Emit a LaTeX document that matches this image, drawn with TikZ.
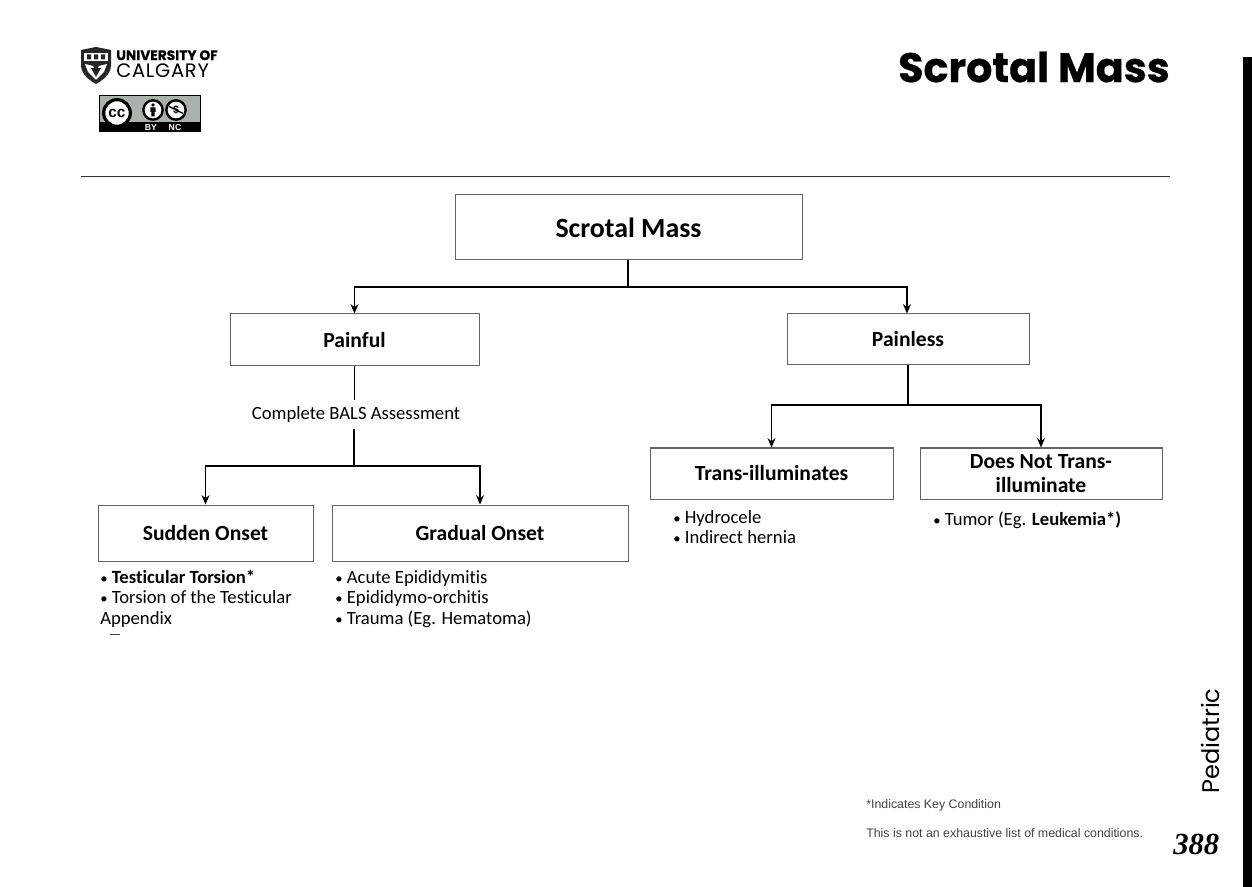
\documentclass[tikz,border=0pt]{standalone}
\usepackage{fontspec}
\usepackage{xcolor}
\usetikzlibrary{arrows.meta,positioning,calc}
\setmainfont{Carlito}[Ligatures=NoCommon]
\newfontfamily\titlefont{Poppins}[FakeBold=0.6]
\newfontfamily\sidefont{Poppins}
\newfontfamily\logofont{Poppins}[LetterSpace=4]
\newfontfamily\notefont{Liberation Sans}
\newfontfamily\pagefont{Liberation Serif}
\definecolor{boxline}{HTML}{636363}
\definecolor{ccgrey}{HTML}{AAB2AB}
\newcommand{\listdot}{{\fontsize{11}{11}\selectfont\textbullet}\hspace{3.2pt}}

\begin{document}
\begin{tikzpicture}[
      x=0.75pt, y=-0.75pt,
      block/.style={rectangle, draw=boxline, line width=0.75pt, fill=white, text centered, inner sep=0pt, font=\fontsize{16.2}{18}\selectfont\bfseries},
      listing/.style={anchor=north west, align=left, inner sep=0pt, font=\fontsize{14}{15.5}\selectfont},
      arrow/.style={-{Stealth[length=7pt,width=6pt]}, line width=1pt},
      link/.style={line width=1pt},
      badge/.style={circle, draw=black, line width=1.8pt, fill=white, inner sep=0pt},
      footnote/.style={anchor=west, inner sep=0pt, text=black!75, font=\notefont\fontsize{9.27}{10}\selectfont}
    ]
      \useasboundingbox (0,0) rectangle (1252,887);

      % Page furniture
      \node[anchor=east, inner sep=0pt, font=\titlefont\fontsize{30.9}{33}\selectfont\bfseries] (title) at (1170,67) {Scrotal Mass};
      \coordinate (ruleleft) at (81,177);
      \coordinate (ruleright) at (1170,177);
      \draw[line width=0.75pt, black!80] (ruleleft) -- (ruleright);
      \fill[black] (1243,57) rectangle (1252,887);
      \node[rotate=90, anchor=west, inner sep=0pt, font=\sidefont\fontsize{18}{20}\selectfont] (side) at (1210,794) {Pediatric};
      \node[anchor=east, inner sep=0pt, font=\pagefont\fontsize{23}{25}\selectfont\bfseries\itshape] (page) at (1219.5,844) {388};

      % University logo
      \fill[black!85] (81,50) -- (96,47) -- (111,50) -- (111,66) .. controls (110,75) and (103,80) .. (96,84) .. controls (89,80) and (82,75) .. (81,66) -- cycle;
      \fill[white] (84,53) rectangle (108,61);
      \fill[black!85] (87,54.5) rectangle (91,59.5) (94,54.5) rectangle (98,59.5) (101,54.5) rectangle (105,59.5);
      \fill[white] (85,64) -- (93,66) -- (96,72) -- (99,66) -- (107,64) -- (104,72) -- (96,80) -- (88,72) -- cycle;
      \fill[black!85] (91,68) -- (101,68) -- (96,77) -- cycle;
      \node[anchor=north west, inner sep=0pt, font=\titlefont\fontsize{10.3}{11}\selectfont\bfseries] (logotop) at (116,50) {UNIVERSITY OF};
      \node[anchor=north west, inner sep=0pt, font=\logofont\fontsize{14.6}{15}\selectfont] (logobottom) at (116,63) {CALGARY};

      % Licence badge
      \fill[ccgrey] (99,96) rectangle (200,132);
      \fill[black] (99,122.5) rectangle (200,132);
      \draw[black, line width=0.75pt] (99,96) rectangle (200,132);
      \node[badge, minimum size=20pt, line width=2.4pt, font=\notefont\fontsize{11.5}{12}\selectfont\bfseries] (cc) at (117,113) {cc};
      \node[badge, minimum size=14.5pt] (by) at (153,110) {};
      \node[badge, minimum size=14.5pt] (nc) at (176,110) {};
      \fill[black] (153,105) circle (1.8) (150.3,107.5) rectangle (155.7,112) (151.3,112) rectangle (154.7,116.5);
      \node[inner sep=0pt, font=\notefont\fontsize{8}{8}\selectfont\bfseries] (ncmark) at (176,110) {\$};
      \draw[black, line width=1pt] (169,106.5) -- (183,113.5);
      \node[inner sep=0pt, text=white, font=\notefont\fontsize{6.5}{7}\selectfont\bfseries] (bytext) at (151,127.5) {BY};
      \node[inner sep=0pt, text=white, font=\notefont\fontsize{6.5}{7}\selectfont\bfseries] (nctext) at (175,127.5) {NC};

      % Top box
      \node[block, minimum width=260.25pt, minimum height=48.75pt, font=\fontsize{20.9}{22}\selectfont\bfseries] (mass) at (628.5,227.5) {Scrotal Mass};

      % Second level
      \node[block, minimum width=186.75pt, minimum height=39pt] (painful) at (354.5,340) {Painful};
      \node[block, minimum width=181.5pt, minimum height=38.25pt] (painless) at (908,339.5) {Painless};

      % Third level
      \node[font=\fontsize{14}{15}\selectfont, inner sep=0pt, minimum height=21pt] (bals) at (356,414.5) {Complete BALS Assessment};
      \node[block, minimum width=161.25pt, minimum height=42pt] (sudden) at (205.5,533) {Sudden Onset};
      \node[block, minimum width=222pt, minimum height=42pt] (gradual) at (480,533) {Gradual Onset};
      \node[block, minimum width=182.25pt, minimum height=38.25pt] (trans) at (771.5,473.5) {Trans-illuminates};
      \node[block, minimum width=181.5pt, minimum height=38.25pt, align=center, font=\fontsize{16.2}{18}\selectfont\bfseries] (nottrans) at (1041,473.5) {Does Not Trans-\\illuminate};

      % Lists
      \node[listing] (suddenlist) at (100,569.5) {\listdot\textbf{Testicular Torsion*}\\\listdot Torsion of the Testicular\\Appendix};
      \node[listing] (graduallist) at (335,570) {\listdot Acute Epididymitis\\\listdot Epididymo-orchitis\\\listdot Trauma (Eg. Hematoma)};
      \node[listing] (translist) at (673,510) {\listdot Hydrocele\\\listdot Indirect hernia};
      \node[listing] (nottranslist) at (933,511) {\listdot Tumor (Eg. \textbf{Leukemia*)}};
      \coordinate (cutleft) at (110,634.5);
      \coordinate (cutright) at (120,634.5);
      \draw[line width=0.75pt, black!75] (cutleft) -- (cutright);

      % Footnotes
      \node[footnote] (keynote) at (866,805) {*Indicates Key Condition};
      \node[footnote] (listnote) at (866,833) {This is not an exhaustive list of medical conditions.};

      % Arrows
      \coordinate (massjoin) at (628,287);
      \coordinate (balsjoin) at (354,466);
      \coordinate (painlessjoin) at (908,405);
      \draw[link] (mass.south -| massjoin) -- (massjoin);
      \draw[arrow] (massjoin) -| (painful.north);
      \draw[arrow] (massjoin) -| (painless.north -| 907,0);
      \draw[link] (painful.south) -- (bals.north -| painful.south);
      \draw[link] (bals.south -| balsjoin) -- (balsjoin);
      \draw[arrow] (balsjoin) -| (sudden.north);
      \draw[arrow] (balsjoin) -| (gradual.north);
      \draw[link] (painless.south) -- (painlessjoin);
      \draw[arrow] (painlessjoin) -| (trans.north);
      \draw[arrow] (painlessjoin) -| (nottrans.north);
    \end{tikzpicture}
\end{document}
